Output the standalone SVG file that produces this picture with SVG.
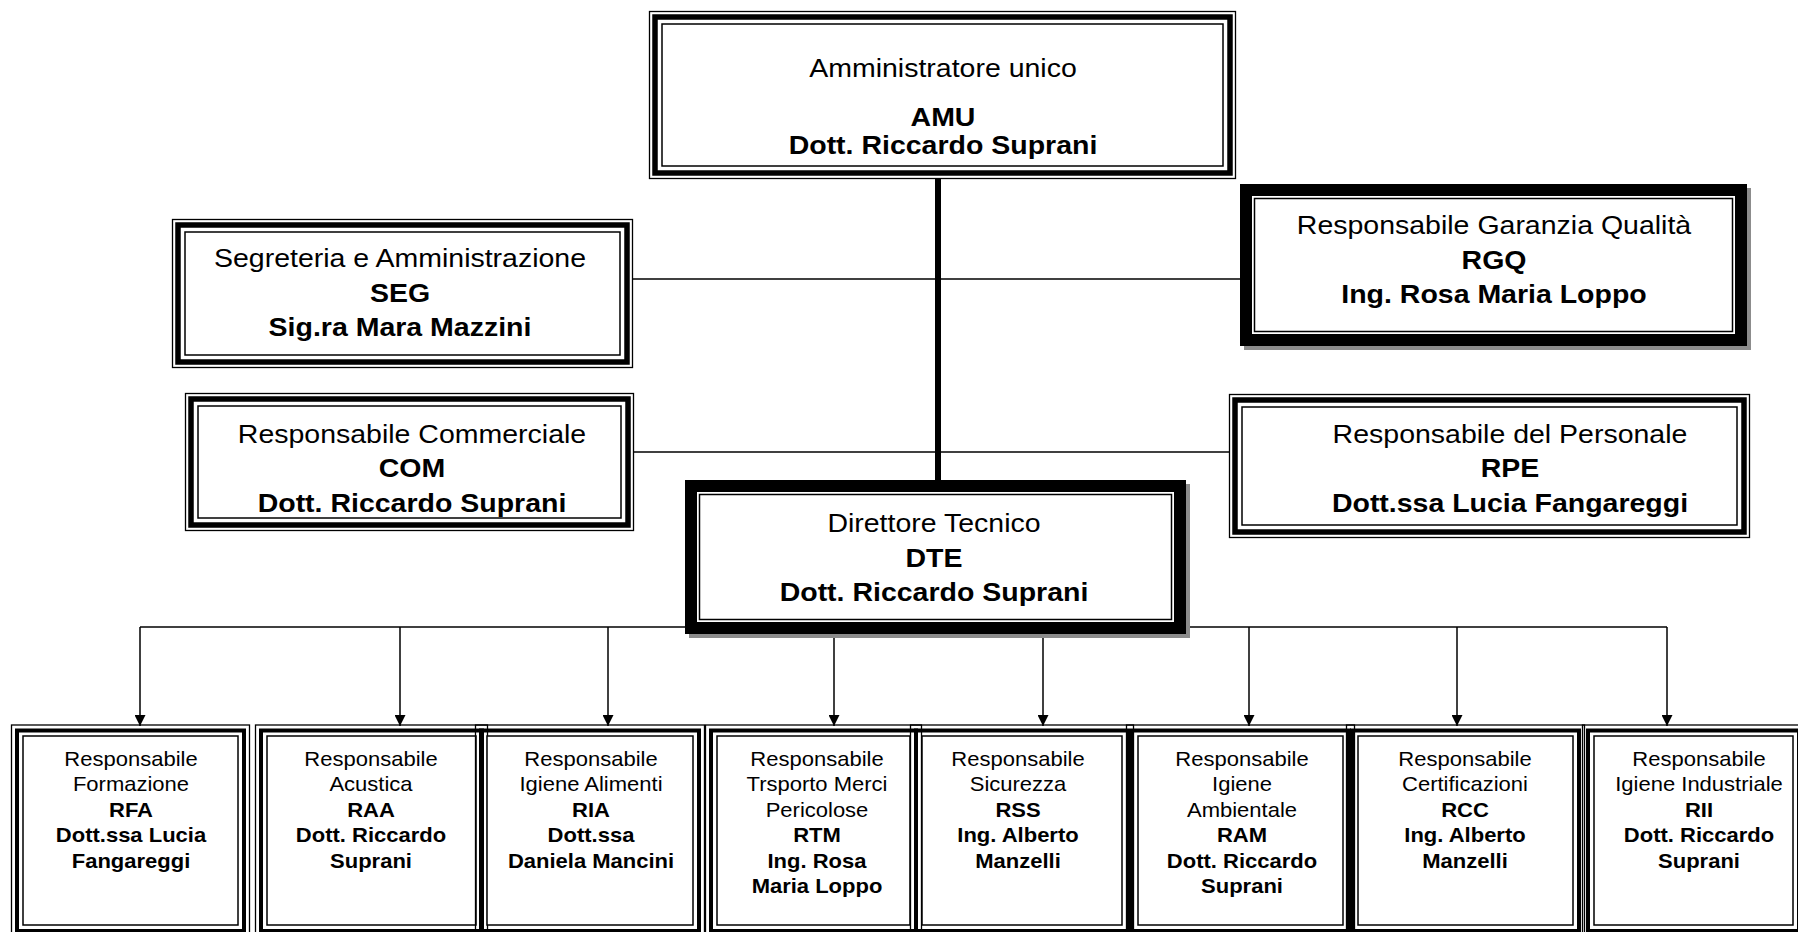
<svg xmlns="http://www.w3.org/2000/svg" width="1798" height="932" viewBox="0 0 1798 932">
<style>
.t{font-family:"Liberation Sans",Arial,Helvetica,sans-serif;text-anchor:middle;fill:#000}
.m{font-size:25px}
.s{font-size:20px}
.b{font-weight:bold}
.o{fill:none;stroke:#000;stroke-width:1.3}
.k{fill:none;stroke:#000;stroke-width:5.5}
.ks{fill:none;stroke:#000;stroke-width:4}
.kb{fill:#fff;stroke:#000;stroke-width:12}
.i{fill:#fff;stroke:#000;stroke-width:1.5}
.sh{fill:#8c8c8c}
.c{fill:none;stroke:#000;stroke-width:1.5}
</style>
<defs>
<marker id="ah" markerWidth="12" markerHeight="11" refX="11" refY="5.5" orient="auto" markerUnits="userSpaceOnUse">
<path d="M0,0 L11,5.5 L0,11 z" fill="#000"/>
</marker>
</defs>
<rect width="1798" height="932" fill="#fff"/>

<g id="connectors">
<line x1="938" y1="178" x2="938" y2="482" stroke="#000" stroke-width="6"/>
<line class="c" x1="632" y1="279" x2="1240" y2="279"/>
<line class="c" x1="633" y1="452" x2="1229" y2="452"/>
<polyline class="c" points="140,627 1667,627"/>
<line class="c" x1="140" y1="627" x2="140" y2="726" marker-end="url(#ah)"/>
<line class="c" x1="400" y1="627" x2="400" y2="726" marker-end="url(#ah)"/>
<line class="c" x1="608" y1="627" x2="608" y2="726" marker-end="url(#ah)"/>
<line class="c" x1="834" y1="627" x2="834" y2="726" marker-end="url(#ah)"/>
<line class="c" x1="1043" y1="627" x2="1043" y2="726" marker-end="url(#ah)"/>
<line class="c" x1="1249" y1="627" x2="1249" y2="726" marker-end="url(#ah)"/>
<line class="c" x1="1457" y1="627" x2="1457" y2="726" marker-end="url(#ah)"/>
<line class="c" x1="1667" y1="627" x2="1667" y2="726" marker-end="url(#ah)"/>
</g>

<g id="AMU">
<rect x="649.5" y="11.5" width="586" height="167" fill="#fff" stroke="#000" stroke-width="1.3"/>
<rect class="k" x="655" y="17" width="575" height="156"/>
<rect class="i" x="662" y="24" width="561" height="142"/>
<g transform="translate(943 0) scale(1.14 1)">
<text class="t m" x="0" y="77">Amministratore unico</text>
<text class="t m b" x="0" y="126">AMU</text>
<text class="t m b" x="0" y="154">Dott. Riccardo Suprani</text>
</g>
</g>

<g id="SEG">
<rect x="172.5" y="219.5" width="460" height="148" fill="#fff" stroke="#000" stroke-width="1.3"/>
<rect class="k" x="178" y="225" width="449" height="137"/>
<rect class="i" x="185" y="232" width="435" height="123"/>
<g transform="translate(400 0) scale(1.14 1)">
<text class="t m" x="0" y="267">Segreteria e Amministrazione</text>
<text class="t m b" x="0" y="302">SEG</text>
<text class="t m b" x="0" y="336">Sig.ra Mara Mazzini</text>
</g>
</g>

<g id="RGQ">
<rect class="sh" x="1244" y="188" width="507" height="162"/>
<rect class="kb" x="1246" y="190" width="495" height="150"/>
<rect class="i" x="1254.5" y="198.5" width="478" height="133"/>
<g transform="translate(1494 0) scale(1.14 1)">
<text class="t m" x="0" y="234">Responsabile Garanzia Qualità</text>
<text class="t m b" x="0" y="269">RGQ</text>
<text class="t m b" x="0" y="303">Ing. Rosa Maria Loppo</text>
</g>
</g>

<g id="COM">
<rect x="185.5" y="393.5" width="448" height="137" fill="#fff" stroke="#000" stroke-width="1.3"/>
<rect class="k" x="191" y="399" width="437" height="126"/>
<rect class="i" x="198" y="406" width="423" height="112"/>
<g transform="translate(412 0) scale(1.14 1)">
<text class="t m" x="0" y="443">Responsabile Commerciale</text>
<text class="t m b" x="0" y="477">COM</text>
<text class="t m b" x="0" y="512">Dott. Riccardo Suprani</text>
</g>
</g>

<g id="RPE">
<rect x="1229.5" y="394.5" width="520" height="143" fill="#fff" stroke="#000" stroke-width="1.3"/>
<rect class="k" x="1235" y="400" width="509" height="132"/>
<rect class="i" x="1242" y="407" width="495" height="118"/>
<g transform="translate(1510 0) scale(1.14 1)">
<text class="t m" x="0" y="443">Responsabile del Personale</text>
<text class="t m b" x="0" y="477">RPE</text>
<text class="t m b" x="0" y="512">Dott.ssa Lucia Fangareggi</text>
</g>
</g>

<g id="DTE">
<rect class="sh" x="689" y="484" width="501" height="154"/>
<rect class="kb" x="691" y="486" width="489" height="142"/>
<rect class="i" x="699.5" y="494.5" width="472" height="125"/>
<g transform="translate(934 0) scale(1.14 1)">
<text class="t m" x="0" y="532">Direttore Tecnico</text>
<text class="t m b" x="0" y="567">DTE</text>
<text class="t m b" x="0" y="601">Dott. Riccardo Suprani</text>
</g>
</g>

<g id="RFA">
<rect class="o" x="11.5" y="725" width="238" height="213"/>
<rect class="ks" x="17" y="730.5" width="227" height="200.5"/>
<rect class="i" x="23" y="736" width="215" height="189"/>
<g transform="translate(131 0) scale(1.1 1)">
<text class="t s" x="0" y="766">Responsabile</text>
<text class="t s" x="0" y="791.5">Formazione</text>
<text class="t s b" x="0" y="817">RFA</text>
<text class="t s b" x="0" y="842.5">Dott.ssa Lucia</text>
<text class="t s b" x="0" y="868">Fangareggi</text>
</g>
</g>

<g id="RAA">
<rect class="o" x="255.5" y="725" width="232" height="213"/>
<rect class="ks" x="261" y="730.5" width="221" height="200.5"/>
<rect class="i" x="267" y="736" width="209" height="189"/>
<g transform="translate(371 0) scale(1.1 1)">
<text class="t s" x="0" y="766">Responsabile</text>
<text class="t s" x="0" y="791.5">Acustica</text>
<text class="t s b" x="0" y="817">RAA</text>
<text class="t s b" x="0" y="842.5">Dott. Riccardo</text>
<text class="t s b" x="0" y="868">Suprani</text>
</g>
</g>

<g id="RIA">
<rect class="o" x="475.5" y="725" width="229" height="213"/>
<rect class="ks" x="481" y="730.5" width="218" height="200.5"/>
<rect class="i" x="487" y="736" width="206" height="189"/>
<g transform="translate(591 0) scale(1.1 1)">
<text class="t s" x="0" y="766">Responsabile</text>
<text class="t s" x="0" y="791.5">Igiene Alimenti</text>
<text class="t s b" x="0" y="817">RIA</text>
<text class="t s b" x="0" y="842.5">Dott.ssa</text>
<text class="t s b" x="0" y="868">Daniela Mancini</text>
</g>
</g>

<g id="RTM">
<rect class="o" x="705.5" y="725" width="216" height="213"/>
<rect class="ks" x="711" y="730.5" width="205" height="200.5"/>
<rect class="i" x="717" y="736" width="193" height="189"/>
<g transform="translate(817 0) scale(1.1 1)">
<text class="t s" x="0" y="766">Responsabile</text>
<text class="t s" x="0" y="791.5">Trsporto Merci</text>
<text class="t s" x="0" y="817">Pericolose</text>
<text class="t s b" x="0" y="842.5">RTM</text>
<text class="t s b" x="0" y="868">Ing. Rosa</text>
<text class="t s b" x="0" y="893.5">Maria Loppo</text>
</g>
</g>

<g id="RSS">
<rect class="o" x="910.5" y="725" width="223" height="213"/>
<rect class="ks" x="916" y="730.5" width="212" height="200.5"/>
<rect class="i" x="922" y="736" width="200" height="189"/>
<g transform="translate(1018 0) scale(1.1 1)">
<text class="t s" x="0" y="766">Responsabile</text>
<text class="t s" x="0" y="791.5">Sicurezza</text>
<text class="t s b" x="0" y="817">RSS</text>
<text class="t s b" x="0" y="842.5">Ing. Alberto</text>
<text class="t s b" x="0" y="868">Manzelli</text>
</g>
</g>

<g id="RAM">
<rect class="o" x="1126.5" y="725" width="228" height="213"/>
<rect class="ks" x="1132" y="730.5" width="217" height="200.5"/>
<rect class="i" x="1138" y="736" width="205" height="189"/>
<g transform="translate(1242 0) scale(1.1 1)">
<text class="t s" x="0" y="766">Responsabile</text>
<text class="t s" x="0" y="791.5">Igiene</text>
<text class="t s" x="0" y="817">Ambientale</text>
<text class="t s b" x="0" y="842.5">RAM</text>
<text class="t s b" x="0" y="868">Dott. Riccardo</text>
<text class="t s b" x="0" y="893.5">Suprani</text>
</g>
</g>

<g id="RCC">
<rect class="o" x="1346.5" y="725" width="238" height="213"/>
<rect class="ks" x="1352" y="730.5" width="227" height="200.5"/>
<rect class="i" x="1358" y="736" width="215" height="189"/>
<g transform="translate(1465 0) scale(1.1 1)">
<text class="t s" x="0" y="766">Responsabile</text>
<text class="t s" x="0" y="791.5">Certificazioni</text>
<text class="t s b" x="0" y="817">RCC</text>
<text class="t s b" x="0" y="842.5">Ing. Alberto</text>
<text class="t s b" x="0" y="868">Manzelli</text>
</g>
</g>

<g id="RII">
<rect class="o" x="1582.5" y="725" width="222" height="213"/>
<rect class="ks" x="1588" y="730.5" width="211" height="200.5"/>
<rect class="i" x="1594" y="736" width="199" height="189"/>
<g transform="translate(1699 0) scale(1.1 1)">
<text class="t s" x="0" y="766">Responsabile</text>
<text class="t s" x="0" y="791.5">Igiene Industriale</text>
<text class="t s b" x="0" y="817">RII</text>
<text class="t s b" x="0" y="842.5">Dott. Riccardo</text>
<text class="t s b" x="0" y="868">Suprani</text>
</g>
</g>
</svg>
